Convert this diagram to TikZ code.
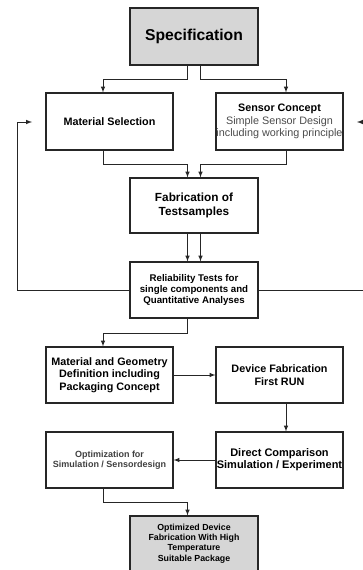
\documentclass[tikz,border=0pt]{standalone}
\usepackage{fontspec}
\setmainfont{Liberation Sans}
\begin{document}
\begin{tikzpicture}[x=1pt, y=-1pt, >=latex,
  blk/.style={draw=black!85, line width=1.1pt, minimum width=127pt, minimum height=56pt, align=center, inner sep=0.5pt, font=\bfseries\fontsize{10.8}{12.4}\selectfont},
  grayblk/.style={blk, fill=black!16},
  link/.style={->, draw=black!85, line width=1pt}]
\useasboundingbox (0,0) rectangle (363,570);
\clip (0,0) rectangle (363,570);
\fill [white] (0,0) rectangle (363,570);

\node (S1) at (194,36.5) [grayblk, minimum width=128pt, minimum height=57pt, font=\bfseries\fontsize{15.7}{18}\selectfont] {Specification};
\node (M1) at (109.5,121.5) [blk, minimum height=57pt] {Material Selection};
\node (C1) at (279.5,121.5) [blk, minimum height=57pt] {Sensor Concept\\\textcolor{black!70}{\textmd{Simple Sensor Design}}\\\textcolor{black!70}{\textmd{including working principle}}};
\node (F1) at (194,205.5) [blk, minimum width=128pt, minimum height=55pt, font=\bfseries\fontsize{11.8}{13.3}\selectfont] {Fabrication of\\Testsamples};
\node (R1) at (194,290) [blk, minimum width=128pt, font=\bfseries\fontsize{9.7}{11.3}\selectfont] {Reliability Tests for\\single components and\\Quantitative Analyses};
\node (G1) at (109.5,375) [blk] {Material and Geometry\\Definition including\\Packaging Concept};
\node (D1) at (279.5,375) [blk] {Device Fabrication\\First RUN};
\node (D2) at (279.5,460) [blk, font=\bfseries\fontsize{11}{12}\selectfont] {Direct Comparison\\Simulation / Experiment};
\node (O1) at (109.5,460) [blk, text=black!75, font=\bfseries\fontsize{9}{10.3}\selectfont] {Optimization for\\Simulation / Sensordesign};
\node (O2) at (194,543.5) [grayblk, minimum width=128pt, minimum height=55pt, font=\bfseries\fontsize{8.8}{10.3}\selectfont] {Optimized Device\\Fabrication With High\\Temperature\\Suitable Package};

\coordinate (L1) at (17,122);
\coordinate (L2) at (32,122);
\coordinate (R2) at (375,122);
\coordinate (R3) at (357,122);

\draw [link] ([xshift=-6.5]S1.south) -- ++(0,14) -| ([xshift=-6.5]M1.north);
\draw [link] ([xshift=6.5]S1.south) -- ++(0,14) -| ([xshift=6.5]C1.north);
\draw [link] ([xshift=-6.5]M1.south) -- ++(0,14) -| ([xshift=-6.5]F1.north);
\draw [link] ([xshift=6.5]C1.south) -- ++(0,14) -| ([xshift=6.5]F1.north);
\draw [link] ([xshift=-6.5]F1.south) -- ([xshift=-6.5]R1.north);
\draw [link] ([xshift=6.5]F1.south) -- ([xshift=6.5]R1.north);
\draw [link] (R1.west) -| (L1) -- (L2);
\draw [link] (R1.east) -| (R2) -- (R3);
\draw [link] ([xshift=-6.5]R1.south) -- ++(0,15) -| ([xshift=-6.5]G1.north);
\draw [link] (G1.east) -- (D1.west);
\draw [link] ([xshift=6.5]D1.south) -- ([xshift=6.5]D2.north);
\draw [link] (D2.west) -- (O1.east);
\draw [link] ([xshift=-6.5]O1.south) -- ++(0,14) -| ([xshift=-6.5]O2.north);
\end{tikzpicture}
\end{document}
